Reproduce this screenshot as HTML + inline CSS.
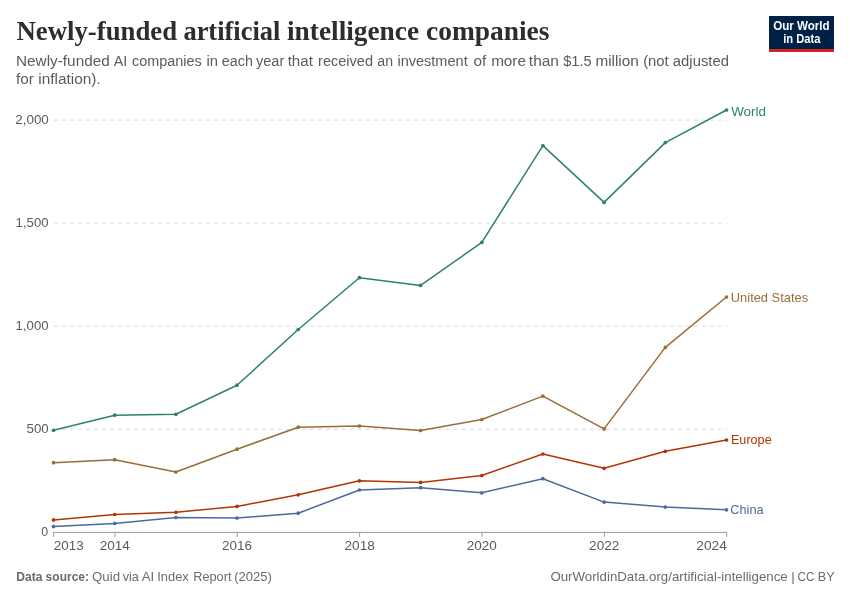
<!DOCTYPE html>
<html><head><meta charset="utf-8"><title>Newly-funded artificial intelligence companies</title>
<style>
html,body{margin:0;padding:0;background:#fff;}
svg{display:block;}
text{font-family:"Liberation Sans",sans-serif;}
.serif{font-family:"Liberation Serif",serif;font-weight:bold;}
</style></head><body>
<svg width="850" height="600" viewBox="0 0 850 600">
<rect width="850" height="600" fill="#fff"/>
<rect x="769" y="16" width="65" height="36" fill="#002147"/><rect x="769" y="49" width="65" height="3" fill="#ce261e"/>
<line x1="53.7" x2="726.8" y1="429.25" y2="429.25" stroke="#dadada" stroke-width="1" stroke-dasharray="4 4"/>
<line x1="53.7" x2="726.8" y1="326.2" y2="326.2" stroke="#dadada" stroke-width="1" stroke-dasharray="4 4"/>
<line x1="53.7" x2="726.8" y1="223.15" y2="223.15" stroke="#dadada" stroke-width="1" stroke-dasharray="4 4"/>
<line x1="53.7" x2="726.8" y1="120.1" y2="120.1" stroke="#dadada" stroke-width="1" stroke-dasharray="4 4"/>
<line x1="53.2" x2="727" y1="532.4" y2="532.4" stroke="#999" stroke-width="1"/>
<line x1="53.7" x2="53.7" y1="532.4" y2="536.9" stroke="#999" stroke-width="1"/>
<line x1="114.9" x2="114.9" y1="532.4" y2="536.9" stroke="#999" stroke-width="1"/>
<line x1="237.2" x2="237.2" y1="532.4" y2="536.9" stroke="#999" stroke-width="1"/>
<line x1="359.6" x2="359.6" y1="532.4" y2="536.9" stroke="#999" stroke-width="1"/>
<line x1="482.0" x2="482.0" y1="532.4" y2="536.9" stroke="#999" stroke-width="1"/>
<line x1="604.3" x2="604.3" y1="532.4" y2="536.9" stroke="#999" stroke-width="1"/>
<line x1="726.7" x2="726.7" y1="532.4" y2="536.9" stroke="#999" stroke-width="1"/>
<g><polyline points="53.5,430.3 114.7,415.2 175.9,414.3 237.0,385.2 298.2,329.5 359.4,277.7 420.6,285.4 481.8,242.4 542.9,145.6 604.1,202.4 665.3,142.6 726.5,110.0" fill="none" stroke="#2c8465" stroke-width="1.5" stroke-linejoin="round" stroke-linecap="round"/><circle cx="53.5" cy="430.3" r="1.85" fill="#2c8465"/><circle cx="114.7" cy="415.2" r="1.85" fill="#2c8465"/><circle cx="175.9" cy="414.3" r="1.85" fill="#2c8465"/><circle cx="237.0" cy="385.2" r="1.85" fill="#2c8465"/><circle cx="298.2" cy="329.5" r="1.85" fill="#2c8465"/><circle cx="359.4" cy="277.7" r="1.85" fill="#2c8465"/><circle cx="420.6" cy="285.4" r="1.85" fill="#2c8465"/><circle cx="481.8" cy="242.4" r="1.85" fill="#2c8465"/><circle cx="542.9" cy="145.6" r="1.85" fill="#2c8465"/><circle cx="604.1" cy="202.4" r="1.85" fill="#2c8465"/><circle cx="665.3" cy="142.6" r="1.85" fill="#2c8465"/><circle cx="726.5" cy="110.0" r="1.85" fill="#2c8465"/></g>
<g><polyline points="53.5,462.7 114.7,459.7 175.9,472.0 237.0,449.2 298.2,427.2 359.4,426.0 420.6,430.5 481.8,419.5 542.9,396.1 604.1,428.9 665.3,347.4 726.5,297.0" fill="none" stroke="#996d39" stroke-width="1.5" stroke-linejoin="round" stroke-linecap="round"/><circle cx="53.5" cy="462.7" r="1.85" fill="#996d39"/><circle cx="114.7" cy="459.7" r="1.85" fill="#996d39"/><circle cx="175.9" cy="472.0" r="1.85" fill="#996d39"/><circle cx="237.0" cy="449.2" r="1.85" fill="#996d39"/><circle cx="298.2" cy="427.2" r="1.85" fill="#996d39"/><circle cx="359.4" cy="426.0" r="1.85" fill="#996d39"/><circle cx="420.6" cy="430.5" r="1.85" fill="#996d39"/><circle cx="481.8" cy="419.5" r="1.85" fill="#996d39"/><circle cx="542.9" cy="396.1" r="1.85" fill="#996d39"/><circle cx="604.1" cy="428.9" r="1.85" fill="#996d39"/><circle cx="665.3" cy="347.4" r="1.85" fill="#996d39"/><circle cx="726.5" cy="297.0" r="1.85" fill="#996d39"/></g>
<g><polyline points="53.5,519.9 114.7,514.5 175.9,512.3 237.0,506.4 298.2,494.8 359.4,480.8 420.6,482.4 481.8,475.5 542.9,454.0 604.1,468.3 665.3,451.3 726.5,440.0" fill="none" stroke="#b13507" stroke-width="1.5" stroke-linejoin="round" stroke-linecap="round"/><circle cx="53.5" cy="519.9" r="1.85" fill="#b13507"/><circle cx="114.7" cy="514.5" r="1.85" fill="#b13507"/><circle cx="175.9" cy="512.3" r="1.85" fill="#b13507"/><circle cx="237.0" cy="506.4" r="1.85" fill="#b13507"/><circle cx="298.2" cy="494.8" r="1.85" fill="#b13507"/><circle cx="359.4" cy="480.8" r="1.85" fill="#b13507"/><circle cx="420.6" cy="482.4" r="1.85" fill="#b13507"/><circle cx="481.8" cy="475.5" r="1.85" fill="#b13507"/><circle cx="542.9" cy="454.0" r="1.85" fill="#b13507"/><circle cx="604.1" cy="468.3" r="1.85" fill="#b13507"/><circle cx="665.3" cy="451.3" r="1.85" fill="#b13507"/><circle cx="726.5" cy="440.0" r="1.85" fill="#b13507"/></g>
<g><polyline points="53.5,526.6 114.7,523.4 175.9,517.5 237.0,518.0 298.2,513.2 359.4,490.0 420.6,487.7 481.8,492.8 542.9,478.7 604.1,502.1 665.3,507.1 726.5,509.8" fill="none" stroke="#4c6a9c" stroke-width="1.5" stroke-linejoin="round" stroke-linecap="round"/><circle cx="53.5" cy="526.6" r="1.85" fill="#4c6a9c"/><circle cx="114.7" cy="523.4" r="1.85" fill="#4c6a9c"/><circle cx="175.9" cy="517.5" r="1.85" fill="#4c6a9c"/><circle cx="237.0" cy="518.0" r="1.85" fill="#4c6a9c"/><circle cx="298.2" cy="513.2" r="1.85" fill="#4c6a9c"/><circle cx="359.4" cy="490.0" r="1.85" fill="#4c6a9c"/><circle cx="420.6" cy="487.7" r="1.85" fill="#4c6a9c"/><circle cx="481.8" cy="492.8" r="1.85" fill="#4c6a9c"/><circle cx="542.9" cy="478.7" r="1.85" fill="#4c6a9c"/><circle cx="604.1" cy="502.1" r="1.85" fill="#4c6a9c"/><circle cx="665.3" cy="507.1" r="1.85" fill="#4c6a9c"/><circle cx="726.5" cy="509.8" r="1.85" fill="#4c6a9c"/></g>
<text y="40.4" font-size="28.2" fill="#2d2d2d" class="serif"><tspan x="16.51" textLength="160.59" lengthAdjust="spacingAndGlyphs">Newly-funded</tspan> <tspan x="183.42" textLength="96.92" lengthAdjust="spacingAndGlyphs">artificial</tspan> <tspan x="287.04" textLength="132.04" lengthAdjust="spacingAndGlyphs">intelligence</tspan> <tspan x="426.01" textLength="123.39" lengthAdjust="spacingAndGlyphs">companies</tspan></text>
<text y="66.1" font-size="14" fill="#5b5b5b"><tspan x="16.00" textLength="93.76" lengthAdjust="spacingAndGlyphs">Newly-funded</tspan> <tspan x="113.70" textLength="13.51" lengthAdjust="spacingAndGlyphs">AI</tspan> <tspan x="131.96" textLength="69.74" lengthAdjust="spacingAndGlyphs">companies</tspan> <tspan x="206.54" textLength="11.54" lengthAdjust="spacingAndGlyphs">in</tspan> <tspan x="221.89" textLength="31.04" lengthAdjust="spacingAndGlyphs">each</tspan> <tspan x="255.95" textLength="28.30" lengthAdjust="spacingAndGlyphs">year</tspan> <tspan x="287.68" textLength="25.22" lengthAdjust="spacingAndGlyphs">that</tspan> <tspan x="318.09" textLength="54.96" lengthAdjust="spacingAndGlyphs">received</tspan> <tspan x="377.36" textLength="15.70" lengthAdjust="spacingAndGlyphs">an</tspan> <tspan x="397.41" textLength="70.28" lengthAdjust="spacingAndGlyphs">investment</tspan> <tspan x="473.40" textLength="12.82" lengthAdjust="spacingAndGlyphs">of</tspan> <tspan x="491.16" textLength="34.74" lengthAdjust="spacingAndGlyphs">more</tspan> <tspan x="528.83" textLength="30.15" lengthAdjust="spacingAndGlyphs">than</tspan> <tspan x="563.16" textLength="28.62" lengthAdjust="spacingAndGlyphs">$1.5</tspan> <tspan x="595.42" textLength="43.36" lengthAdjust="spacingAndGlyphs">million</tspan> <tspan x="643.16" textLength="25.59" lengthAdjust="spacingAndGlyphs">(not</tspan> <tspan x="672.83" textLength="56.20" lengthAdjust="spacingAndGlyphs">adjusted</tspan></text>
<text y="83.6" font-size="14" fill="#5b5b5b"><tspan x="16.11" textLength="17.71" lengthAdjust="spacingAndGlyphs">for</tspan> <tspan x="38.25" textLength="62.53" lengthAdjust="spacingAndGlyphs">inflation).</tspan></text>
<text x="773.18" y="30.3" font-size="12.1" fill="#fff" font-weight="bold" textLength="56.45" lengthAdjust="spacingAndGlyphs">Our World</text>
<text x="783.23" y="42.8" font-size="12.1" fill="#fff" font-weight="bold" textLength="37.33" lengthAdjust="spacingAndGlyphs">in Data</text>
<text x="41.35" y="536.4" font-size="13.5" fill="#5b5b5b" textLength="6.89" lengthAdjust="spacingAndGlyphs">0</text>
<text x="26.52" y="433.35" font-size="13.5" fill="#5b5b5b" textLength="22.20" lengthAdjust="spacingAndGlyphs">500</text>
<text x="15.60" y="330.3" font-size="13.5" fill="#5b5b5b" textLength="32.95" lengthAdjust="spacingAndGlyphs">1,000</text>
<text x="15.60" y="227.25" font-size="13.5" fill="#5b5b5b" textLength="32.95" lengthAdjust="spacingAndGlyphs">1,500</text>
<text x="15.32" y="124.2" font-size="13.5" fill="#5b5b5b" textLength="33.52" lengthAdjust="spacingAndGlyphs">2,000</text>
<text x="53.75" y="550.4" font-size="13.5" fill="#5b5b5b" textLength="29.86" lengthAdjust="spacingAndGlyphs">2013</text>
<text x="99.66" y="550.4" font-size="13.5" fill="#5b5b5b" textLength="30.14" lengthAdjust="spacingAndGlyphs">2014</text>
<text x="221.97" y="550.4" font-size="13.5" fill="#5b5b5b" textLength="29.98" lengthAdjust="spacingAndGlyphs">2016</text>
<text x="344.48" y="550.4" font-size="13.5" fill="#5b5b5b" textLength="30.33" lengthAdjust="spacingAndGlyphs">2018</text>
<text x="466.63" y="550.4" font-size="13.5" fill="#5b5b5b" textLength="30.07" lengthAdjust="spacingAndGlyphs">2020</text>
<text x="589.10" y="550.4" font-size="13.5" fill="#5b5b5b" textLength="30.25" lengthAdjust="spacingAndGlyphs">2022</text>
<text x="696.39" y="550.4" font-size="13.5" fill="#5b5b5b" textLength="30.50" lengthAdjust="spacingAndGlyphs">2024</text>
<text x="731.17" y="115.7" font-size="13.4" fill="#2c8465" textLength="34.81" lengthAdjust="spacingAndGlyphs">World</text>
<text x="730.83" y="301.7" font-size="13.4" fill="#996d39" textLength="77.23" lengthAdjust="spacingAndGlyphs">United States</text>
<text x="730.94" y="444.4" font-size="13.4" fill="#b13507" textLength="40.73" lengthAdjust="spacingAndGlyphs">Europe</text>
<text x="730.32" y="514.4" font-size="13.4" fill="#4c6a9c" textLength="33.21" lengthAdjust="spacingAndGlyphs">China</text>
<text y="580.6" font-size="13.5" fill="#6b6b6b"><tspan x="16.28" textLength="26.08" lengthAdjust="spacingAndGlyphs" font-weight="bold">Data</tspan> <tspan x="45.61" textLength="43.41" lengthAdjust="spacingAndGlyphs" font-weight="bold">source:</tspan> <tspan x="92.00" textLength="28.03" lengthAdjust="spacingAndGlyphs">Quid</tspan> <tspan x="122.72" textLength="16.14" lengthAdjust="spacingAndGlyphs">via</tspan> <tspan x="141.75" textLength="12.51" lengthAdjust="spacingAndGlyphs">AI</tspan> <tspan x="157.28" textLength="31.48" lengthAdjust="spacingAndGlyphs">Index</tspan> <tspan x="193.22" textLength="38.28" lengthAdjust="spacingAndGlyphs">Report</tspan> <tspan x="234.23" textLength="37.65" lengthAdjust="spacingAndGlyphs">(2025)</tspan></text>
<text y="580.6" font-size="13.5" fill="#6b6b6b"><tspan x="550.40" textLength="237.34" lengthAdjust="spacingAndGlyphs">OurWorldinData.org/artificial-intelligence</tspan> <tspan x="791.37">|</tspan> <tspan x="797.41" textLength="17.00" lengthAdjust="spacingAndGlyphs">CC</tspan> <tspan x="817.82" textLength="16.74" lengthAdjust="spacingAndGlyphs">BY</tspan></text>
</svg></body></html>
